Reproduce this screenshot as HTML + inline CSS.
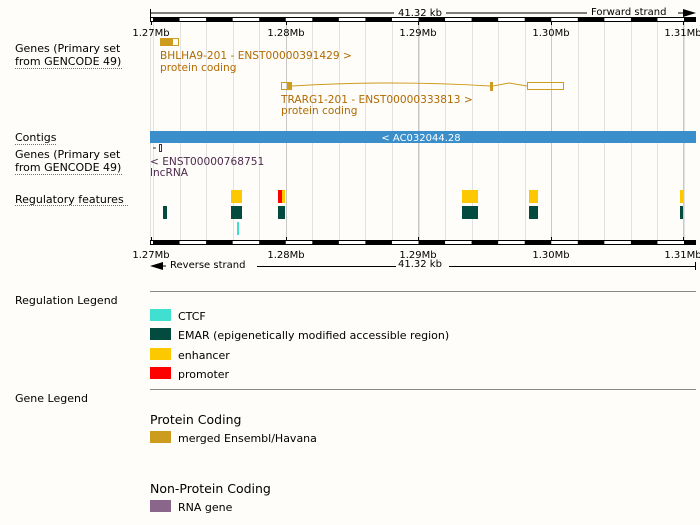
<!DOCTYPE html>
<html><head><meta charset="utf-8"><style>
body{margin:0;background:#fefdf9;}
svg{display:block;font-family:"DejaVu Sans","Liberation Sans",sans-serif;}
.l{font-size:11px;fill:#000}
.u{stroke:#4a7ab5;stroke-width:1;stroke-dasharray:1,1}
</style></head><body>
<svg id="s" width="700" height="525" xmlns="http://www.w3.org/2000/svg">
<rect width="700" height="525" fill="#fefdf9"/>
<g id="grid"></g>
<line x1="150" y1="13" x2="394" y2="13" stroke="#000"/>
<line x1="150.5" y1="9" x2="150.5" y2="17" stroke="#000"/>
<text x="398" y="16" font-size="10">41.32 kb</text>
<line x1="446" y1="13" x2="587" y2="13" stroke="#000"/>
<text x="591" y="15" font-size="10">Forward strand</text>
<line x1="678" y1="13" x2="686" y2="13" stroke="#000"/>
<polygon points="683,9 696,13 683,17" fill="#000"/>
<g id="ruler1"></g>
<g id="ruler2"></g>
<g font-size="10" text-anchor="middle" id="ticks"></g>
<rect x="160" y="38" width="12" height="8" fill="#cd9b1d"/>
<rect x="172.5" y="38.5" width="6" height="7" fill="none" stroke="#cd9b1d"/>
<text x="160" y="59" font-size="10.6" fill="#b06a00">BHLHA9-201 - ENST00000391429 &gt;</text>
<text x="160" y="71" font-size="10.6" fill="#b06a00">protein coding</text>
<rect x="281.5" y="82.5" width="6" height="7" fill="none" stroke="#cd9b1d"/>
<rect x="287" y="82" width="5" height="8" fill="#cd9b1d"/>
<path d="M292 86 Q391 80 490 86" fill="none" stroke="#cd9b1d"/>
<rect x="490" y="82" width="3" height="9" fill="#cd9b1d"/>
<path d="M493 86 L509 83 L527 86" fill="none" stroke="#cd9b1d"/>
<rect x="527.5" y="82.5" width="36" height="7" fill="none" stroke="#cd9b1d"/>
<text x="281" y="103" font-size="10.6" fill="#b06a00">TRARG1-201 - ENST00000333813 &gt;</text>
<text x="281" y="114" font-size="10.6" fill="#b06a00">protein coding</text>
<rect x="150" y="131" width="546" height="12" fill="#3a8ec9"/>
<text x="421" y="141" font-size="10" fill="#fff" text-anchor="middle">&lt; AC032044.28</text>
<line x1="153" y1="148" x2="156" y2="148" stroke="#4e2a4e"/>
<rect x="159.5" y="144.5" width="2" height="7" fill="none" stroke="#4e2a4e"/>
<text x="150" y="165" font-size="10.6" fill="#4e2a4e">&lt; ENST00000768751</text>
<text x="150" y="176" font-size="10.6" fill="#4e2a4e">lncRNA</text>
<rect x="231" y="190" width="11" height="13" fill="#fcc900"/>
<rect x="278" y="190" width="4" height="13" fill="#fe0000"/>
<rect x="282" y="190" width="3" height="13" fill="#fcc900"/>
<rect x="462" y="190" width="16" height="13" fill="#fcc900"/>
<rect x="529" y="190" width="9" height="13" fill="#fcc900"/>
<rect x="680" y="190" width="3" height="13" fill="#fcc900"/>
<g fill="#024b3e">
<rect x="163" y="206" width="4" height="13"/>
<rect x="231" y="206" width="11" height="13"/>
<rect x="278" y="206" width="7" height="13"/>
<rect x="462" y="206" width="16" height="13"/>
<rect x="529" y="206" width="9" height="13"/>
<rect x="680" y="206" width="3" height="13"/>
</g>
<rect x="237" y="222" width="2" height="13" fill="#40e0d0"/>
<polygon points="150,266 163,262 163,270" fill="#000"/>
<line x1="160" y1="266" x2="166" y2="266" stroke="#000"/>
<text x="170" y="268" font-size="10">Reverse strand</text>
<line x1="257" y1="266.5" x2="396" y2="266.5" stroke="#000"/>
<text x="398" y="267" font-size="10">41.32 kb</text>
<line x1="449" y1="266.5" x2="696" y2="266.5" stroke="#000"/>
<line x1="695.5" y1="262" x2="695.5" y2="270" stroke="#000"/>
<text class="l" x="15" y="52">Genes (Primary set</text>
<text class="l" x="15" y="65">from GENCODE 49)</text>
<line class="u" x1="15" y1="68.5" x2="123" y2="68.5"/>
<text class="l" x="15" y="141">Contigs</text>
<line class="u" x1="15" y1="144.5" x2="57" y2="144.5"/>
<text class="l" x="15" y="158">Genes (Primary set</text>
<text class="l" x="15" y="171">from GENCODE 49)</text>
<line class="u" x1="15" y1="174.5" x2="123" y2="174.5"/>
<text class="l" x="15" y="203">Regulatory features</text>
<line class="u" x1="15" y1="205.5" x2="129" y2="205.5"/>
<text class="l" x="15" y="304">Regulation Legend</text>
<line x1="150" y1="291.5" x2="696" y2="291.5" stroke="#888"/>
<rect x="150" y="309" width="21" height="12" fill="#40e0d0"/><text class="l" x="178" y="320">CTCF</text>
<rect x="150" y="328" width="21" height="12" fill="#024b3e"/><text class="l" x="178" y="339">EMAR (epigenetically modified accessible region)</text>
<rect x="150" y="348" width="21" height="12" fill="#fcc900"/><text class="l" x="178" y="359">enhancer</text>
<rect x="150" y="367" width="21" height="12" fill="#fe0000"/><text class="l" x="178" y="378">promoter</text>
<line x1="150" y1="389.5" x2="696" y2="389.5" stroke="#888"/>
<text class="l" x="15" y="402">Gene Legend</text>
<text x="150" y="424" font-size="12.5">Protein Coding</text>
<rect x="150" y="431" width="21" height="12" fill="#cd9b1d"/><text class="l" x="178" y="442">merged Ensembl/Havana</text>
<text x="150" y="493" font-size="12.5">Non-Protein Coding</text>
<rect x="150" y="500" width="21" height="12" fill="#8b668b"/><text class="l" x="178" y="511">RNA gene</text>
</svg>
<script>
var ns="http://www.w3.org/2000/svg";
function el(p,t,a,txt){var e=document.createElementNS(ns,t);for(var k in a)e.setAttribute(k,a[k]);if(txt)e.textContent=txt;document.getElementById(p).appendChild(e);}
var st=153,w=26.55;
for(var i=0;i<21;i++){var x=Math.round(st+w*i)+0.5;if(x>696)break;
el("grid","line",{x1:x,y1:22,x2:x,y2:240,stroke:"#e2e2e2"});}
[286.5,418.5,551.5,683.5].forEach(function(x){el("grid","line",{x1:x,y1:22,x2:x,y2:240,stroke:"#c8c8c8"});});
el("grid","line",{x1:150.5,y1:22,x2:150.5,y2:240,stroke:"#e2e2e2"});
function ruler(g,y){el(g,"rect",{x:150.5,y:y+0.5,width:545,height:4,fill:"#fff",stroke:"#000"});
for(var i=0;i<21;i+=2){var a=st+w*i,b=Math.min(a+w,696);if(a>=696)break;el(g,"rect",{x:a,y:y,width:b-a,height:5,fill:"#000"});}}
ruler("ruler1",17);ruler("ruler2",240);
var T=[[151,"1.27Mb"],[286,"1.28Mb"],[418,"1.29Mb"],[551,"1.30Mb"],[683,"1.31Mb"]];
T.forEach(function(t){el("ticks","text",{x:t[0],y:36},t[1]);el("ticks","text",{x:t[0],y:258},t[1]);
el("ticks","line",{x1:t[0]+0.5,y1:22,x2:t[0]+0.5,y2:25,stroke:"#000"});el("ticks","line",{x1:t[0]+0.5,y1:237,x2:t[0]+0.5,y2:240,stroke:"#000"});});
</script>
</body></html>
